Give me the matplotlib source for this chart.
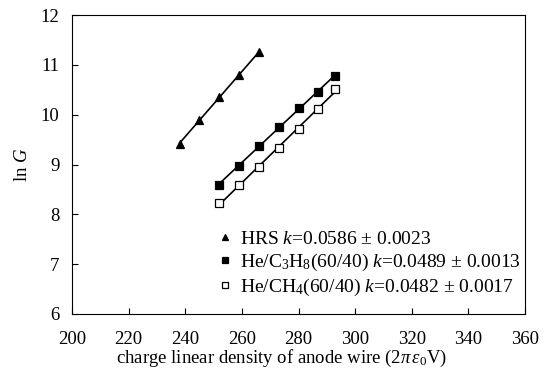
import numpy as np
import matplotlib
matplotlib.use('Agg')
import matplotlib.pyplot as plt

plt.rcParams['font.family'] = 'Liberation Serif'
plt.rcParams['mathtext.fontset'] = 'custom'
plt.rcParams['mathtext.rm'] = 'Liberation Serif'
plt.rcParams['mathtext.it'] = 'Liberation Serif:italic'
plt.rcParams['font.size'] = 13.5

# data
hrs_x = [238, 245, 252, 259, 266]
hrs_y = [9.42, 9.89, 10.36, 10.80, 11.25]

c3h8_x = [252, 259, 266, 273, 280, 287, 293]
c3h8_y = [8.59, 8.98, 9.38, 9.76, 10.13, 10.46, 10.78]

ch4_x = [252, 259, 266, 273, 280, 287, 293]
ch4_y = [8.22, 8.58, 8.95, 9.34, 9.72, 10.11, 10.51]

labels = [r'HRS $k$=0.0586 ± 0.0023',
          r'He/C$_3$H$_8$(60/40) $k$=0.0489 ± 0.0013',
          r'He/CH$_4$(60/40) $k$=0.0482 ± 0.0017']

fig = plt.figure(figsize=(5.51, 3.76), dpi=100)
ax = fig.add_axes([0.1307, 0.1649, 0.8221, 0.7951])

series = [(hrs_x, hrs_y, '^', 'black'),
          (c3h8_x, c3h8_y, 's', 'black'),
          (ch4_x, ch4_y, 's', 'white')]

handles = []
for (x, y, m, fc), lab in zip(series, labels):
    # linear trend line over the data range
    p = np.polyfit(x, y, 1)
    xx = np.array([min(x), max(x)])
    ax.plot(xx, np.polyval(p, xx), '-', color='black', lw=1.2, zorder=2)
    h, = ax.plot(x, y, m, ms=5.5, mfc=fc, mec='black', mew=0.9, ls='none',
                 label=lab, zorder=3)
    handles.append(h)

leg = ax.legend(handles=handles, loc='upper left', bbox_to_anchor=(0.328, 0.279),
                frameon=False, fontsize=14, handlelength=0.5, handletextpad=0.5,
                labelspacing=0.2, markerscale=0.75, borderaxespad=0, borderpad=0)

ax.set_xlim(200, 360)
ax.set_ylim(6, 12)
ax.set_xticks(np.arange(200, 361, 20))
ax.set_yticks(np.arange(6, 13, 1))
ax.tick_params(direction='in', length=4, width=0.8, labelsize=13.5)
ax.tick_params(axis='x', pad=12)
ax.tick_params(axis='y', pad=9)
for s in ax.spines.values():
    s.set_linewidth(0.8)

ax.set_xlabel(r'charge linear density of anode wire (2$\pi\,\varepsilon_0$V)', fontsize=13.5)
ax.xaxis.set_label_coords(0.4636, -0.113)
ax.set_ylabel(r'ln $G$', fontsize=13.5, labelpad=7)

fig.savefig('out.png', dpi=100)
